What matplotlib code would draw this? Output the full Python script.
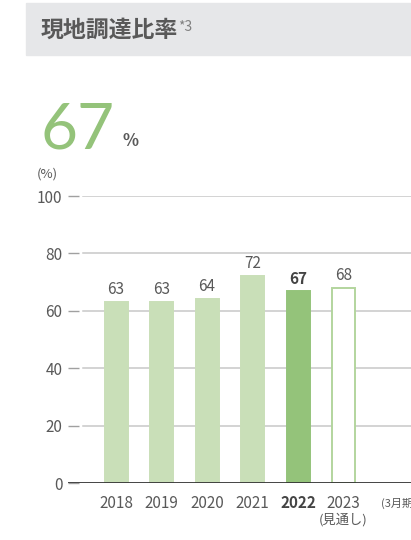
import matplotlib
matplotlib.use("Agg")
from matplotlib import pyplot as plt
from matplotlib import font_manager
from matplotlib.patches import Rectangle

years = ["2018", "2019", "2020", "2021", "2022", "2023"]
values = [63, 63, 64, 72, 67, 68]
bar_colors = ["#c9dfb8", "#c9dfb8", "#c9dfb8", "#c9dfb8", "#94c37a", "#ffffff"]
edge_colors = ["#c9dfb8", "#c9dfb8", "#c9dfb8", "#c9dfb8", "#94c37a", "#b3d59e"]
yticks = [0, 20, 40, 60, 80, 100]
headline = "67"

installed = {f.name for f in font_manager.fontManager.ttflist}
NARROW = "Liberation Sans Narrow" if "Liberation Sans Narrow" in installed else "Noto Sans CJK JP"
NUM_FONT = [NARROW, "Noto Sans CJK JP", "DejaVu Sans"]
CJK_FONT = ["Noto Sans CJK JP", "DejaVu Sans"]
GRAY = "#595959"

W, H = 411, 540
fig = plt.figure(figsize=(W / 100, H / 100), dpi=100)

# header band
fig.patches.append(Rectangle((26 / W, 1 - 55 / H), 1 - 26 / W, 52 / H,
                             transform=fig.transFigure, color="#e6e7e9", zorder=0))
fig.text(41 / W, 1 - 30 / H, "現地調達比率", family=CJK_FONT, weight="bold",
         fontsize=16.5, color=GRAY, va="center", ha="left")
fig.text(178 / W, 1 - 27 / H, "*3", family=NUM_FONT, fontsize=10,
         color="#808080", va="center", ha="left")

# big number
fig.text(40 / W, 1 - 148 / H, headline, family=["Lato", "DejaVu Sans"], weight="normal",
         fontsize=46, color="#94c37a", va="baseline", ha="left")
fig.text(122 / W, 1 - 146 / H, "%", family=NUM_FONT, weight="bold",
         fontsize=12, color=GRAY, va="baseline", ha="left")
fig.text(37 / W, 1 - 174 / H, "(%)", family=NUM_FONT, fontsize=9.5,
         color=GRAY, va="center", ha="left")

# axes: x px 68..411, y px 196 (100) .. 483 (0)
ax = fig.add_axes([68 / W, 1 - 483 / H, 1 - 68 / W, (483 - 196) / H])
step = 45.5
ax.set_xlim((68 - 116) / step, (411 - 116) / step)
ax.set_ylim(0, 100)
for s in ax.spines.values():
    s.set_visible(False)

for y in yticks[1:]:
    ax.axhline(y, xmin=(83 - 68) / (W - 68), color="#c8c8c8", lw=1.1, zorder=1)
ax.axhline(0, color="#333333", lw=2, zorder=4)

x = list(range(len(years)))
ax.bar(x, values, width=23 / step, color=bar_colors, edgecolor=edge_colors,
       linewidth=1.4, zorder=3)

for i, v in enumerate(values):
    bold = years[i] == "2022"
    ax.annotate(str(v), (i, v), xytext=(0, 3), textcoords="offset points",
                ha="center", va="bottom", family=NUM_FONT, fontsize=11,
                color="#444444" if bold else GRAY, weight="bold" if bold else "normal")

ax.set_yticks(yticks)
ax.set_yticklabels([str(t) for t in yticks], family=NUM_FONT, fontsize=11, color=GRAY)
ax.tick_params(axis="y", direction="in", length=8, width=1, color="#a0a0a0", pad=4)

ax.set_xticks(x)
ax.set_xticklabels(years, family=NUM_FONT, fontsize=11, color=GRAY)
ax.tick_params(axis="x", length=0, pad=9)
for lbl in ax.get_xticklabels():
    if lbl.get_text() == "2022":
        lbl.set_fontweight("bold")
        lbl.set_color("#444444")

xt = ax.get_xaxis_transform()
ax.text(5, -(520 - 483) / (483 - 196), "(見通し)", transform=xt, family=CJK_FONT,
        fontsize=9.5, color=GRAY, ha="center", va="center")
ax.text((381 - 116) / step, -(503 - 483) / (483 - 196), "(3月期)", transform=xt,
        family=CJK_FONT, fontsize=8, color=GRAY, ha="left", va="center", clip_on=False)

fig.savefig("out.png", dpi=100)
